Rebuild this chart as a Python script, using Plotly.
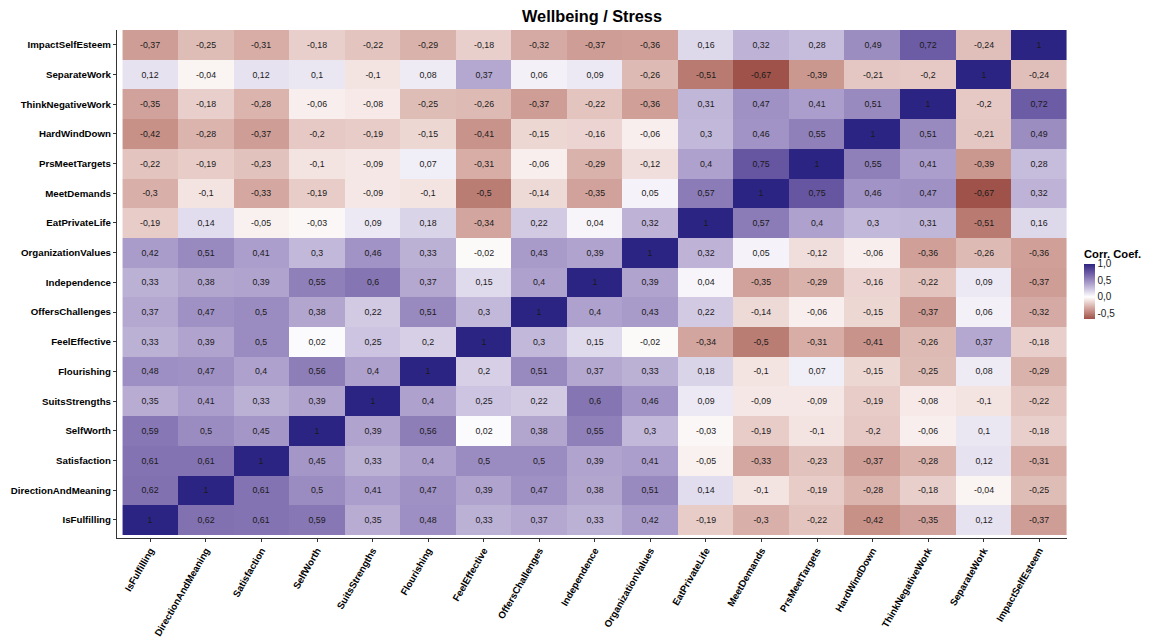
import plotly.graph_objects as go

# Variables, in axis order (x: left to right, y: bottom to top)
variables = [
    "IsFulfilling", "DirectionAndMeaning", "Satisfaction", "SelfWorth",
    "SuitsStrengths", "Flourishing", "FeelEffective", "OffersChallenges",
    "Independence", "OrganizationValues", "EatPrivateLife", "MeetDemands",
    "PrsMeetTargets", "HardWindDown", "ThinkNegativeWork", "SeparateWork",
    "ImpactSelfEsteem",
]

# Correlation coefficients per variable (columns follow `variables`)
is_fulfilling = [1, 0.62, 0.61, 0.59, 0.35, 0.48, 0.33, 0.37, 0.33, 0.42, -0.19, -0.3, -0.22, -0.42, -0.35, 0.12, -0.37]
direction_and_meaning = [0.62, 1, 0.61, 0.5, 0.41, 0.47, 0.39, 0.47, 0.38, 0.51, 0.14, -0.1, -0.19, -0.28, -0.18, -0.04, -0.25]
satisfaction = [0.61, 0.61, 1, 0.45, 0.33, 0.4, 0.5, 0.5, 0.39, 0.41, -0.05, -0.33, -0.23, -0.37, -0.28, 0.12, -0.31]
self_worth = [0.59, 0.5, 0.45, 1, 0.39, 0.56, 0.02, 0.38, 0.55, 0.3, -0.03, -0.19, -0.1, -0.2, -0.06, 0.1, -0.18]
suits_strengths = [0.35, 0.41, 0.33, 0.39, 1, 0.4, 0.25, 0.22, 0.6, 0.46, 0.09, -0.09, -0.09, -0.19, -0.08, -0.1, -0.22]
flourishing = [0.48, 0.47, 0.4, 0.56, 0.4, 1, 0.2, 0.51, 0.37, 0.33, 0.18, -0.1, 0.07, -0.15, -0.25, 0.08, -0.29]
feel_effective = [0.33, 0.39, 0.5, 0.02, 0.25, 0.2, 1, 0.3, 0.15, -0.02, -0.34, -0.5, -0.31, -0.41, -0.26, 0.37, -0.18]
offers_challenges = [0.37, 0.47, 0.5, 0.38, 0.22, 0.51, 0.3, 1, 0.4, 0.43, 0.22, -0.14, -0.06, -0.15, -0.37, 0.06, -0.32]
independence = [0.33, 0.38, 0.39, 0.55, 0.6, 0.37, 0.15, 0.4, 1, 0.39, 0.04, -0.35, -0.29, -0.16, -0.22, 0.09, -0.37]
organization_values = [0.42, 0.51, 0.41, 0.3, 0.46, 0.33, -0.02, 0.43, 0.39, 1, 0.32, 0.05, -0.12, -0.06, -0.36, -0.26, -0.36]
eat_private_life = [-0.19, 0.14, -0.05, -0.03, 0.09, 0.18, -0.34, 0.22, 0.04, 0.32, 1, 0.57, 0.4, 0.3, 0.31, -0.51, 0.16]
meet_demands = [-0.3, -0.1, -0.33, -0.19, -0.09, -0.1, -0.5, -0.14, -0.35, 0.05, 0.57, 1, 0.75, 0.46, 0.47, -0.67, 0.32]
prs_meet_targets = [-0.22, -0.19, -0.23, -0.1, -0.09, 0.07, -0.31, -0.06, -0.29, -0.12, 0.4, 0.75, 1, 0.55, 0.41, -0.39, 0.28]
hard_wind_down = [-0.42, -0.28, -0.37, -0.2, -0.19, -0.15, -0.41, -0.15, -0.16, -0.06, 0.3, 0.46, 0.55, 1, 0.51, -0.21, 0.49]
think_negative_work = [-0.35, -0.18, -0.28, -0.06, -0.08, -0.25, -0.26, -0.37, -0.22, -0.36, 0.31, 0.47, 0.41, 0.51, 1, -0.2, 0.72]
separate_work = [0.12, -0.04, 0.12, 0.1, -0.1, 0.08, 0.37, 0.06, 0.09, -0.26, -0.51, -0.67, -0.39, -0.21, -0.2, 1, -0.24]
impact_self_esteem = [-0.37, -0.25, -0.31, -0.18, -0.22, -0.29, -0.18, -0.32, -0.37, -0.36, 0.16, 0.32, 0.28, 0.49, 0.72, -0.24, 1]

colorbar_ticks = [1.0, 0.5, 0.0, -0.5]
colorbar_ticktext = ["1,0", "0,5", "0,0", "-0,5"]

z = [
    is_fulfilling, direction_and_meaning, satisfaction, self_worth,
    suits_strengths, flourishing, feel_effective, offers_challenges,
    independence, organization_values, eat_private_life, meet_demands,
    prs_meet_targets, hard_wind_down, think_negative_work, separate_work,
    impact_self_esteem,
]


def fmt(v):
    return f"{v:g}".replace(".", ",")


text = [[fmt(v) for v in row] for row in z]


# --- diverging palette, interpolated in CIE Lab (white midpoint) ---
def _lin(c):
    c = c / 255.0
    return c / 12.92 if c <= 0.04045 else ((c + 0.055) / 1.055) ** 2.4


def _gam(c):
    c = 12.92 * c if c <= 0.0031308 else 1.055 * c ** (1 / 2.4) - 0.055
    return max(0, min(255, round(c * 255)))


WX, WY, WZ = 0.95047, 1.0, 1.08883


def hex_to_lab(h):
    r, g, b = (_lin(int(h[i:i + 2], 16)) for i in (1, 3, 5))
    x = 0.4124 * r + 0.3576 * g + 0.1805 * b
    y = 0.2126 * r + 0.7152 * g + 0.0722 * b
    zz = 0.0193 * r + 0.1192 * g + 0.9505 * b

    def f(t):
        return t ** (1 / 3) if t > 0.008856 else 7.787 * t + 16 / 116

    fx, fy, fz = f(x / WX), f(y / WY), f(zz / WZ)
    return (116 * fy - 16, 500 * (fx - fy), 200 * (fy - fz))


def lab_to_hex(lab):
    L, a, b = lab
    fy = (L + 16) / 116
    fx = fy + a / 500
    fz = fy - b / 200

    def finv(t):
        return t ** 3 if t ** 3 > 0.008856 else (t - 16 / 116) / 7.787

    x, y, zz = finv(fx) * WX, finv(fy) * WY, finv(fz) * WZ
    r = 3.2406 * x - 1.5372 * y - 0.4986 * zz
    g = -0.9689 * x + 1.8758 * y + 0.0415 * zz
    bb = 0.0557 * x - 0.2040 * y + 1.0570 * zz
    return "#%02x%02x%02x" % (_gam(r), _gam(g), _gam(bb))


zmin = min(min(r) for r in z)
zmax = max(max(r) for r in z)
LOW, MID, HIGH = hex_to_lab("#9f5249"), hex_to_lab("#ffffff"), hex_to_lab("#2b2482")


def color_at(v):
    if v < 0:
        t, end = v / zmin, LOW
    else:
        t, end = v / zmax, HIGH
    return lab_to_hex(tuple(m + (e - m) * t for m, e in zip(MID, end)))


n = 60
positions = sorted(set([i / n for i in range(n + 1)] + [(-zmin) / (zmax - zmin)]))
colorscale = [[p, color_at(zmin + p * (zmax - zmin))] for p in positions]

FONT = "Liberation Sans, Arial, sans-serif"

fig = go.Figure(
    go.Heatmap(
        x=variables,
        y=variables,
        z=z,
        text=text,
        texttemplate="%{text}",
        textfont=dict(family=FONT, size=8.8, color="#1a1a1a"),
        colorscale=colorscale,
        zmin=zmin,
        zmax=zmax,
        xgap=0,
        ygap=0,
        hovertemplate="%{y} / %{x}: %{text}<extra></extra>",
        colorbar=dict(
            title=dict(text="<b>Corr. Coef.</b>", side="top",
                       font=dict(family=FONT, size=11.2, color="#000000")),
            tickvals=colorbar_ticks,
            ticktext=colorbar_ticktext,
            tickfont=dict(family=FONT, size=10, color="#1a1a1a"),
            ticks="",
            thickness=11,
            lenmode="pixels",
            len=72,
            ypad=0,
            xpad=0,
            outlinewidth=0,
            x=(1084 - 117) / 950,
            xanchor="left",
            y=0.502,
            yanchor="middle",
        ),
    )
)

axis_font = dict(family=FONT, size=9.7, color="#000000", weight="bold")

fig.update_layout(
    width=1156,
    height=637,
    margin=dict(l=117, r=89, t=30, b=99),
    paper_bgcolor="white",
    plot_bgcolor="white",
    title=dict(
        text="<b>Wellbeing / Stress</b>",
        x=(117 + 1067) / 2 / 1156,
        xanchor="center",
        y=1 - 16 / 637,
        yanchor="middle",
        font=dict(family=FONT, size=16.3, color="#000000"),
    ),
    xaxis=dict(
        type="category",
        range=[-0.6, 16.5],
        tickangle=-60,
        tickfont=axis_font,
        ticks="outside",
        ticklen=3,
        ticklabelstandoff=-1,
        tickcolor="#333333",
        showline=True,
        linecolor="#333333",
        linewidth=1.2,
        showgrid=False,
        zeroline=False,
        automargin=False,
    ),
    yaxis=dict(
        type="category",
        range=[-0.61, 16.5],
        tickfont=axis_font,
        ticks="outside",
        ticklen=3,
        tickcolor="#333333",
        showline=True,
        linecolor="#333333",
        linewidth=1.2,
        showgrid=False,
        zeroline=False,
        automargin=False,
    ),
)

fig.write_html("out.html")
